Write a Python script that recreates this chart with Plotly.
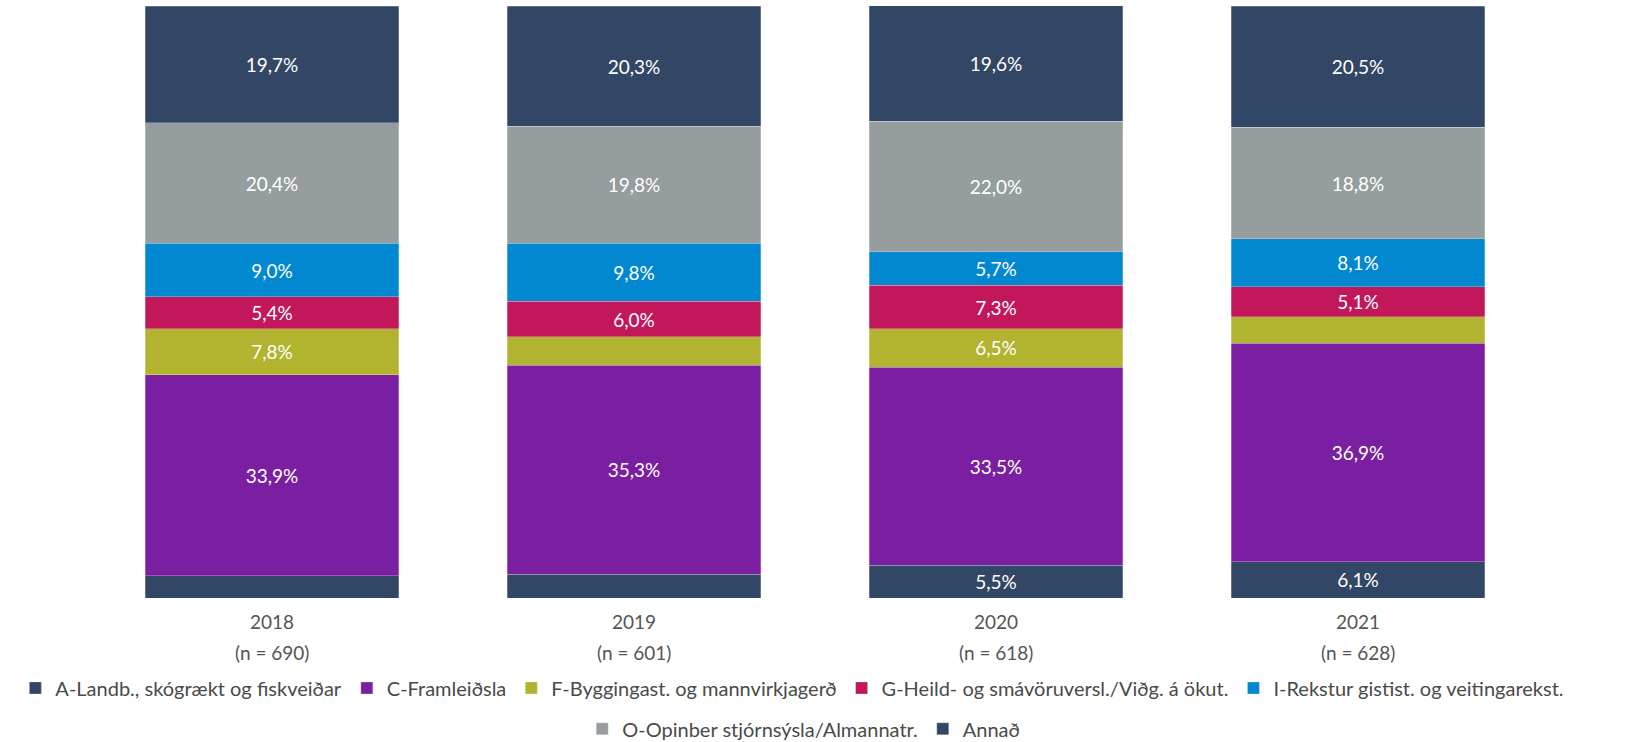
import plotly.graph_objects as go

years = ["2018", "2019", "2020", "2021"]
n_values = [690, 601, 618, 628]

series_names = [
    "A-Landb., skógrækt og fiskveiðar",
    "C-Framleiðsla",
    "F-Byggingast. og mannvirkjagerð",
    "G-Heild- og smávöruversl./Viðg. á ökut.",
    "I-Rekstur gistist. og veitingarekst.",
    "O-Opinber stjórnsýsla/Almannatr.",
    "Annað",
]

a_landb = [3.8, 4.0, 5.5, 6.1]
c_framl = [33.9, 35.3, 33.5, 36.9]
f_bygg = [7.8, 4.8, 6.5, 4.5]
g_heild = [5.4, 6.0, 7.3, 5.1]
i_rekstur = [9.0, 9.8, 5.7, 8.1]
o_opinber = [20.4, 19.8, 22.0, 18.8]
annad = [19.7, 20.3, 19.6, 20.5]

series_values = [a_landb, c_framl, f_bygg, g_heild, i_rekstur, o_opinber, annad]
colors = ["#324665", "#7b1fa2", "#b2b42f", "#c2185b", "#0288d1", "#969d9f", "#324665"]
# legend is split over two rows like the original
legend_rows = ["legend", "legend", "legend", "legend", "legend", "legend2", "legend2"]

n_labels = [f"(n = {n})" for n in n_values]


def fmt(v):
    # labels only on segments of 5% or more, comma as decimal mark
    return (f"{v:.1f}".replace(".", ",") + "%") if v >= 5 else ""


fig = go.Figure()
for name, vals, col, lg in zip(series_names, series_values, colors, legend_rows):
    fig.add_trace(go.Bar(
        x=years, y=vals, name=name, legend=lg,
        marker=dict(color=col, line=dict(color="rgba(255,255,255,0.5)", width=0.5)),
        text=[fmt(v) for v in vals],
        textposition="inside", insidetextanchor="middle",
        textfont=dict(color="white", size=19),
        hoverinfo="name+y",
    ))

# category centres ~362px apart, first at x=272 (full width plot area, no side margins)
plot_h = 592
x_range = [-272 / 362, (1627 - 272) / 362]

# second line of the category labels (placed by category index)
for i, lab in enumerate(n_labels):
    fig.add_annotation(x=i, y=-54 / plot_h, xref="x", yref="paper", yanchor="middle",
                       text=lab, showarrow=False,
                       font=dict(size=19, color="#555555"))

legend_font = dict(size=20, color="#4a4a4a")
fig.update_layout(
    barmode="stack",
    bargap=0.3,
    width=1627, height=742,
    margin=dict(l=0, r=0, t=6, b=144, autoexpand=False),
    plot_bgcolor="white", paper_bgcolor="white",
    font=dict(family="Lato, Open Sans, sans-serif", color="#444444", size=16),
    uniformtext=dict(mode="show", minsize=10),
    legend=dict(orientation="h", x=0.487, xanchor="center", y=-0.152, yanchor="middle",
                font=legend_font, traceorder="normal"),
    legend2=dict(orientation="h", x=0.494, xanchor="center", y=-0.221, yanchor="middle",
                 font=legend_font, traceorder="normal"),
    xaxis=dict(type="category", tickfont=dict(size=19, color="#555555"),
               showline=False, ticks="", range=x_range, ticklabelstandoff=11),
    yaxis=dict(visible=False, range=[0, 100]),
)

# drop the default page margin so the figure sits at the window's corner
fig.write_html("out.html", config={"displayModeBar": False},
               post_script="document.body.style.margin='0';")
